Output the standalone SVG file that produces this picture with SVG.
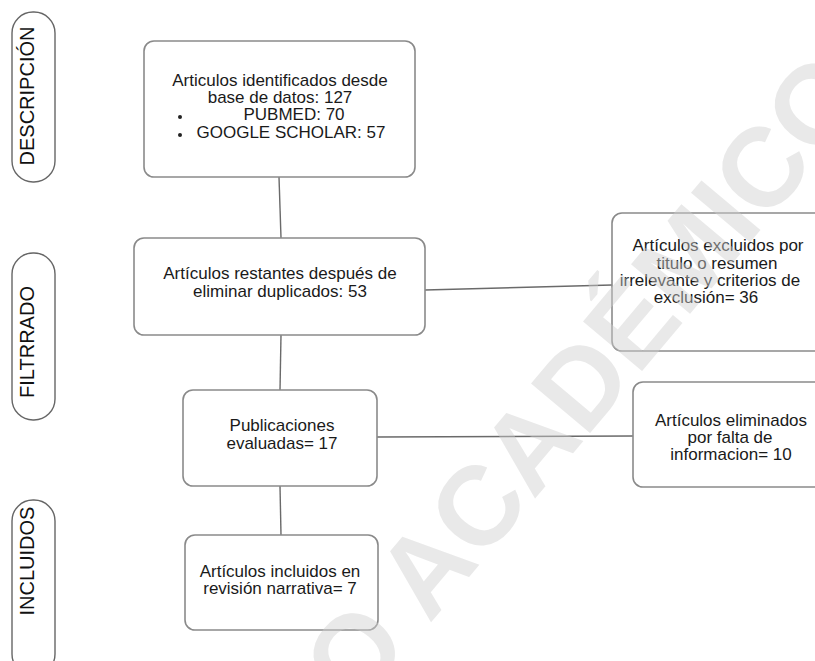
<svg xmlns="http://www.w3.org/2000/svg" width="815" height="661" viewBox="0 0 815 661">
<style>
.box{fill:#fff;stroke:#8a8a8a;stroke-width:1.6}
.pill{fill:#fff;stroke:#666;stroke-width:1.4}
.t{font-family:"Liberation Sans",Arial,sans-serif;font-size:17px;fill:#1a1a1a;text-anchor:middle}
.lbl{font-family:"Liberation Sans",Arial,sans-serif;font-size:20px;fill:#111;text-anchor:middle}
.c{stroke:#6a6a6a;stroke-width:1.4;fill:none}
.wm{font-family:"Liberation Sans",Arial,sans-serif;font-weight:bold;font-size:112px;fill:#cfcfcf;opacity:0.45}
</style>
<rect width="815" height="661" fill="#fff"/>
<g id="connectors">
<line class="c" x1="279" y1="177" x2="281" y2="238"/>
<line class="c" x1="281" y1="335" x2="280" y2="390"/>
<line class="c" x1="280" y1="486" x2="281" y2="535"/>
<line class="c" x1="425" y1="290" x2="612" y2="285"/>
<line class="c" x1="377" y1="437" x2="633" y2="436"/>
</g>
<g id="lbl-descripcion">
<rect class="pill" x="12" y="12" width="43" height="170" rx="21"/>
<text class="lbl" transform="translate(34,96) rotate(-90)">DESCRIPCIÓN</text>
</g>
<g id="lbl-filtrado">
<rect class="pill" x="12" y="253" width="43" height="167" rx="21"/>
<text class="lbl" transform="translate(34,342) rotate(-90)">FILTRRADO</text>
</g>
<g id="lbl-incluidos">
<rect class="pill" x="12" y="500" width="43" height="175" rx="21"/>
<text class="lbl" transform="translate(34,561) rotate(-90)">INCLUIDOS</text>
</g>
<g id="n-identificados">
<rect class="box" x="144" y="41" width="271" height="136" rx="10"/>
<text class="t" x="280" y="86">Articulos identificados desde</text>
<text class="t" x="280" y="103">base de datos: 127</text>
<circle cx="180" cy="117" r="2" fill="#222"/>
<text class="t" x="294" y="120">PUBMED: 70</text>
<circle cx="180" cy="135" r="2" fill="#222"/>
<text class="t" x="291" y="138">GOOGLE SCHOLAR: 57</text>
</g>
<g id="n-restantes">
<rect class="box" x="134" y="238" width="291" height="97" rx="10"/>
<text class="t" x="280" y="279">Artículos restantes después de</text>
<text class="t" x="280" y="297">eliminar duplicados: 53</text>
</g>
<g id="n-excluidos">
<rect class="box" x="612" y="213" width="220" height="138" rx="10"/>
<text class="t" x="718" y="251">Artículos excluidos por</text>
<text class="t" x="717" y="269">titulo o resumen</text>
<text class="t" x="710" y="286">irrelevante y criterios de</text>
<text class="t" x="706" y="303">exclusión= 36</text>
</g>
<g id="n-evaluadas">
<rect class="box" x="183" y="390" width="194" height="96" rx="10"/>
<text class="t" x="282" y="431">Publicaciones</text>
<text class="t" x="282" y="449">evaluadas= 17</text>
</g>
<g id="n-eliminados">
<rect class="box" x="633" y="382" width="200" height="105" rx="10"/>
<text class="t" x="731" y="426">Artículos eliminados</text>
<text class="t" x="730" y="443">por falta de</text>
<text class="t" x="731" y="460">informacion= 10</text>
</g>
<g id="n-incluidos">
<rect class="box" x="185" y="535" width="193" height="95" rx="10"/>
<text class="t" x="280" y="577">Artículos incluidos en</text>
<text class="t" x="280" y="594">revisión narrativa= 7</text>
</g>
<text class="wm" transform="translate(356,712) rotate(-50)">O ACADÉMICO</text>
</svg>
